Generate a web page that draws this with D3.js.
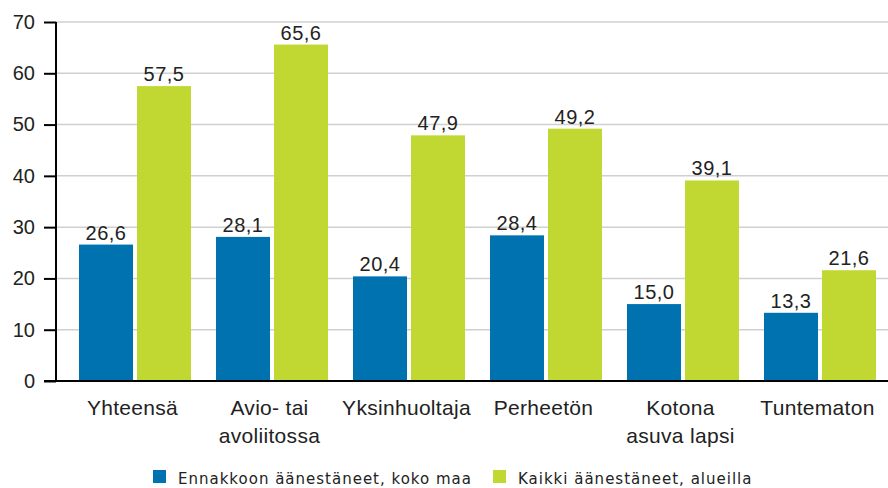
<!DOCTYPE html>
<html>
<head>
<meta charset="utf-8">
<script src="https://cdn.jsdelivr.net/npm/d3@7"></script>
<style>
  body { margin: 0; background: #fff; }
  text { font-family: "Liberation Sans", Arial, sans-serif; fill: #222; }
</style>
</head>
<body>
<div id="chart"></div>
<script>
const categories = ["Yhteensä", "Avio- tai\navoliitossa", "Yksinhuoltaja", "Perheetön", "Kotona\nasuva lapsi", "Tuntematon"];
const seriesNames = ["Ennakkoon äänestäneet, koko maa", "Kaikki äänestäneet, alueilla"];
const ennakko = [26.6, 28.1, 20.4, 28.4, 15.0, 13.3];
const kaikki = [57.5, 65.6, 47.9, 49.2, 39.1, 21.6];
const yTicks = [0, 10, 20, 30, 40, 50, 60, 70];
const colors = ["#0072b0", "#c2d832"];

const W = 888, H = 488;
const svg = d3.select("#chart").append("svg").attr("width", W).attr("height", H);

var x0 = d3.scaleBand().domain(categories).range([66.5, 888.5]);
var x1 = d3.scaleBand().domain([0, 1]).range([12.5, 124.5]).paddingInner(0.069);
var y = d3.scaleLinear().domain([0, 70]).range([381, 22]);

// gridlines
svg.selectAll("line.grid").data(yTicks.filter(v => v > 0)).enter().append("line")
  .attr("class", "grid")
  .attr("x1", 56).attr("x2", W)
  .attr("y1", v => y(v)).attr("y2", v => y(v))
  .attr("stroke", "#d0d0d0").attr("stroke-width", 1.5);

// bars
var rows = categories.map((c, i) => ({ c: c, vals: [ennakko[i], kaikki[i]] }));
var g = svg.selectAll("g.cat").data(rows).enter().append("g")
  .attr("transform", d => "translate(" + x0(d.c) + ",0)");

g.selectAll("rect").data(d => d.vals.map((v, s) => ({ v: v, s: s }))).enter().append("rect")
  .attr("x", d => x1(d.s))
  .attr("width", x1.bandwidth())
  .attr("y", d => y(d.v))
  .attr("height", d => y(0) - y(d.v))
  .attr("fill", d => colors[d.s]);

g.selectAll("text.val").data(d => d.vals.map((v, s) => ({ v: v, s: s }))).enter().append("text")
  .attr("class", "val")
  .attr("x", d => x1(d.s) + x1.bandwidth() / 2)
  .attr("y", d => y(d.v) - 5)
  .attr("text-anchor", "middle")
  .style("font-size", "20px")
  .style("letter-spacing", "0.5px")
  .text(d => d.v.toFixed(1).replace(".", ","));

// y axis
var yAxis = d3.axisLeft(y).tickValues(yTicks).tickSize(12).tickPadding(9);
var ya = svg.append("g").attr("transform", "translate(56,0)").call(yAxis);
ya.select(".domain").attr("stroke", "#000").attr("stroke-width", 2).attr("d", "M0," + y(70) + "V" + y(0));
ya.selectAll(".tick line").attr("stroke", "#000").attr("stroke-width", 2);
ya.selectAll(".tick text").style("font-size", "20px").style("font-family", "Liberation Sans, Arial, sans-serif").attr("fill", "#222");

// baseline
svg.append("line").attr("x1", 44).attr("x2", W).attr("y1", y(0)).attr("y2", y(0))
  .attr("stroke", "#000").attr("stroke-width", 2);

// category labels
g.each(function(d) {
  var t = d3.select(this).append("text")
    .attr("text-anchor", "middle")
    .style("font-size", "21px")
    .style("letter-spacing", "0.3px");
  d.c.split("\n").forEach((line, k) => {
    t.append("tspan").attr("x", 66).attr("y", 415 + k * 28).text(line);
  });
});

// legend
var legX = [153, 493];
var lg = svg.selectAll("g.leg").data(seriesNames).enter().append("g")
  .attr("transform", (d, i) => "translate(" + legX[i] + ",0)");
lg.append("rect").attr("x", 0).attr("y", 470).attr("width", 13).attr("height", 13)
  .attr("fill", (d, i) => colors[i]);
lg.append("text").attr("x", 25).attr("y", 484)
  .style("font-family", "DejaVu Sans, Verdana, sans-serif")
  .style("font-size", "15px")
  .style("letter-spacing", "1px")
  .text(d => d);
</script>
</body>
</html>
